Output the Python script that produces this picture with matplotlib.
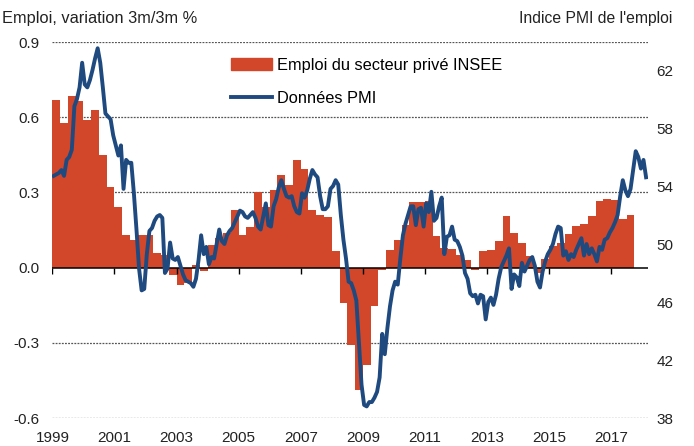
import numpy as np
import matplotlib
matplotlib.use("Agg")
import matplotlib.pyplot as plt
from matplotlib.patches import Patch
from matplotlib.lines import Line2D

plt.rcParams['font.family'] = ['Liberation Sans', 'DejaVu Sans']

# INSEE private sector employment, q/q % (1999Q1 .. 2017Q3)
insee = [
    0.67, 0.575, 0.685, 0.665,   # 1999
    0.59, 0.63, 0.45, 0.32,      # 2000
    0.24, 0.13, 0.11, 0.13,      # 2001
    0.13, 0.06, 0.05, -0.03,     # 2002
    -0.07, -0.06, 0.01, -0.015,  # 2003
    0.09, 0.12, 0.14, 0.23,      # 2004
    0.13, 0.16, 0.30, 0.24,      # 2005
    0.31, 0.37, 0.33, 0.43,      # 2006
    0.395, 0.23, 0.21, 0.20,     # 2007
    0.065, -0.14, -0.31, -0.49,  # 2008
    -0.39, -0.155, -0.01, 0.07,  # 2009
    0.11, 0.17, 0.26, 0.26,      # 2010
    0.265, 0.125, 0.08, 0.075,   # 2011
    0.05, 0.03, -0.01, 0.065,    # 2012
    0.07, 0.105, 0.205, 0.14,    # 2013
    0.10, 0.045, -0.02, 0.035,   # 2014
    0.085, 0.10, 0.135, 0.165,   # 2015
    0.175, 0.207, 0.265, 0.275,  # 2016
    0.27, 0.195, 0.21,           # 2017
]

# PMI employment index, monthly (Jan 1999 .. Feb 2018)
pmi = [
    54.7, 54.8, 54.9, 55.1, 54.7, 55.8, 56.0, 56.5, 59.5, 60.0, 60.8, 62.5,  # 1999
    61.0, 60.8, 61.3, 62.0, 62.8, 63.5, 62.5, 60.8, 59.0, 58.8, 58.6, 57.5,  # 2000
    56.8, 56.1, 56.8, 53.8, 55.8, 55.6, 55.6, 53.5, 51.0, 48.3, 46.8, 46.9,  # 2001
    49.3, 50.9, 51.1, 51.6, 51.9, 52.0, 51.8, 48.0, 48.3, 50.1, 49.0, 48.9,  # 2002
    49.1, 48.5, 47.9, 47.5, 47.4, 47.3, 47.05, 47.6, 48.9, 50.6, 49.3, 49.8, # 2003
    48.6, 49.1, 49.0, 50.0, 51.0, 50.2, 50.0, 50.6, 50.9, 51.1, 51.5, 51.9,  # 2004
    52.3, 52.2, 51.9, 51.8, 52.0, 52.2, 51.8, 51.2, 51.0, 51.9, 52.8, 51.3,  # 2005
    51.2, 52.6, 53.1, 53.9, 54.4, 53.8, 53.3, 53.2, 53.3, 52.6, 52.2, 52.1,  # 2006
    53.5, 53.2, 53.7, 54.5, 55.1, 54.8, 54.6, 53.3, 52.4, 52.4, 52.6, 53.8,  # 2007
    54.0, 54.4, 54.1, 52.0, 50.3, 49.0, 47.4, 47.3, 46.8, 46.1, 43.2, 40.3,  # 2008
    38.9, 38.8, 39.1, 39.1, 39.4, 39.8, 40.8, 43.8, 42.4, 44.2, 45.7, 46.8,  # 2009
    47.4, 47.2, 49.0, 50.6, 51.4, 52.0, 52.6, 52.6, 51.3, 52.4, 52.5, 51.2,  # 2010
    52.8, 52.2, 53.6, 51.6, 51.8, 52.6, 53.2, 49.3, 50.5, 50.6, 51.2, 50.3,  # 2011
    50.2, 49.8, 49.2, 48.0, 47.6, 46.6, 46.4, 46.5, 45.9, 46.5, 46.4, 44.8,  # 2012
    46.0, 46.3, 45.8, 46.5, 47.6, 48.4, 48.8, 49.2, 49.7, 46.9, 47.9, 47.7,  # 2013
    47.1, 48.7, 48.1, 48.5, 48.9, 49.1, 48.5, 47.4, 47.0, 48.1, 48.8, 49.3,  # 2014
    49.6, 50.0, 50.7, 51.2, 51.1, 49.2, 49.5, 48.9, 49.3, 49.1, 49.6, 50.0,  # 2015
    50.4, 49.2, 50.0, 49.3, 49.7, 49.3, 48.8, 49.8, 49.6, 50.3, 50.4, 50.8,  # 2016
    51.1, 51.5, 52.0, 53.3, 54.4, 53.7, 53.3, 53.8, 55.1, 56.4, 56.0, 55.2,  # 2017
    55.8, 54.6,                                                              # 2018
]

year_ticks = list(range(1999, 2018, 2))
left_ticks = [-0.6, -0.3, 0.0, 0.3, 0.6, 0.9]
right_ticks = [38, 42, 46, 50, 54, 58, 62]

bar_color = '#D2462A'
line_color = '#1F4A80'
text_color = '#222222'

q_x = 1999 + np.arange(len(insee)) / 4
m_x = 1999 + (np.arange(len(pmi)) + 0.5) / 12

fig = plt.figure(figsize=(6.94, 4.46), dpi=100)
ax = fig.add_axes([52.4 / 694, 1 - 418 / 446, 596 / 694, 376 / 446])

ax.bar(q_x, insee, width=0.25, align='edge', color=bar_color, linewidth=0, zorder=2)
ax.set_xlim(1999, 2018.2)
ax.set_ylim(-0.6, 0.9)
ax.set_yticks(left_ticks)
ax.set_yticklabels(['%.1f' % v for v in left_ticks])
for v in left_ticks:
    if v != 0:
        ax.axhline(v, color='#555555', lw=0.9, ls=(0, (1.5, 1)), zorder=1)
ax.axhline(0, color='black', lw=1.1, zorder=3)
ax.plot(year_ticks, [0] * len(year_ticks), ls='none', marker=3, ms=4,
        mew=1, color='black', zorder=3)

ax.set_xticks(year_ticks)
ax.set_xticklabels([str(y) for y in year_ticks])
ax.tick_params(axis='x', length=0, pad=9, labelsize=11, colors=text_color)
ax.tick_params(axis='y', length=0, pad=9, labelsize=11, colors=text_color)
for s in ax.spines.values():
    s.set_visible(False)

ax2 = ax.twinx()
ax2.plot(m_x, pmi, color=line_color, lw=2.8, zorder=4)
ax2.set_ylim(38, 38 + 376 / 14.5)
ax2.set_yticks(right_ticks)
ax2.tick_params(axis='y', length=0, pad=6, labelsize=11, colors=text_color)
for s in ax2.spines.values():
    s.set_visible(False)

fig.text(2 / 694, 1 - 18 / 446, 'Emploi, variation 3m/3m %', fontsize=11.8,
         color=text_color, ha='left', va='center')
fig.text(672 / 694, 1 - 18 / 446, "Indice PMI de l'emploi", fontsize=11.3,
         color=text_color, ha='right', va='center')

handles = [Patch(color=bar_color), Line2D([], [], color=line_color, lw=2.8)]
labels = ['Emploi du secteur privé INSEE', 'Données PMI']
fig.legend(handles, labels, loc='upper left', bbox_to_anchor=(231 / 694, 1 - 58 / 446),
           frameon=False, fontsize=11.8, handlelength=2.5, handleheight=0.75,
           handletextpad=0.3, labelspacing=1.1, borderpad=0, borderaxespad=0)

fig.savefig('out.png', dpi=100)
